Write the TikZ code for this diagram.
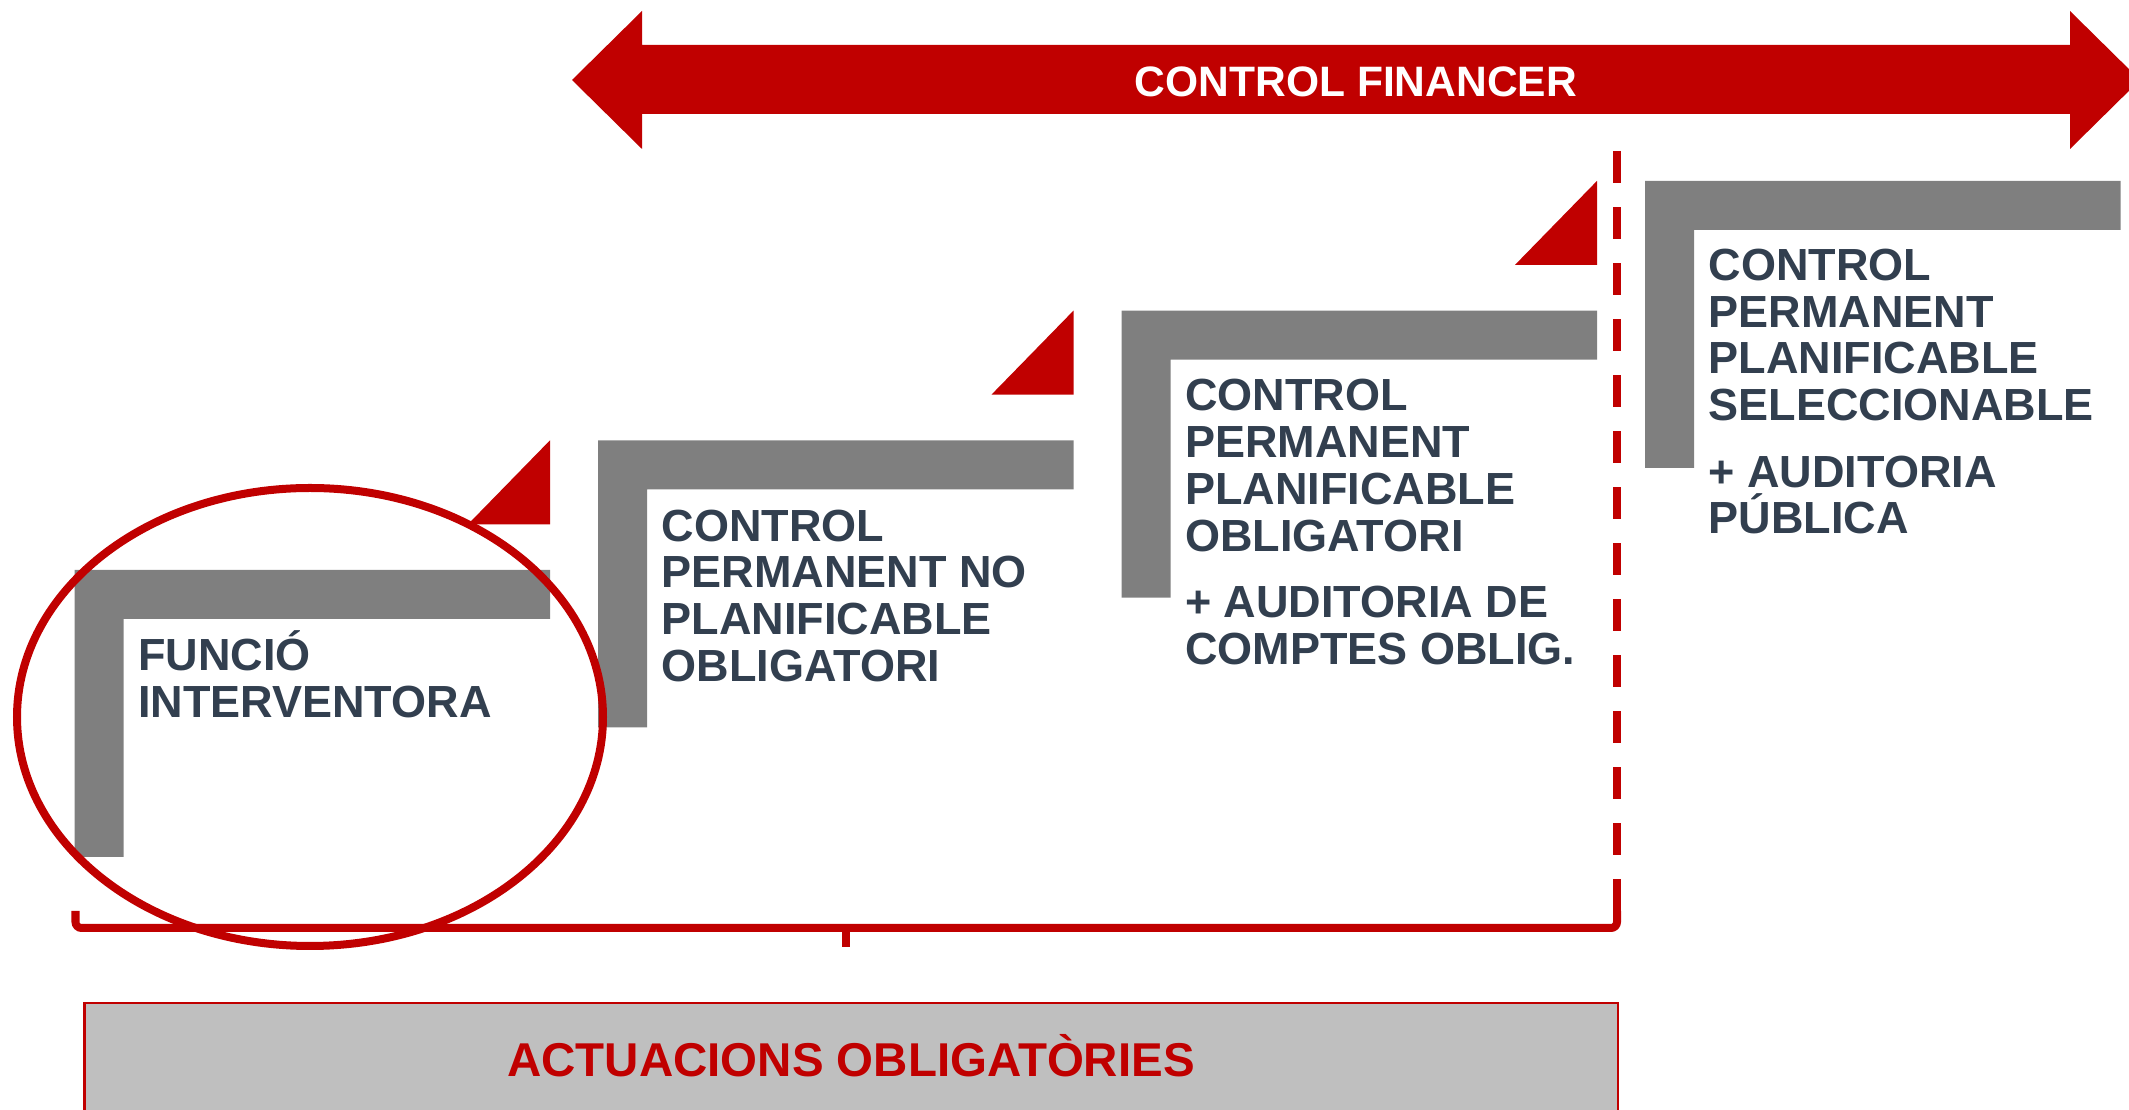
\documentclass[tikz,border=0pt]{standalone}
\usepackage{fontspec}
\setmainfont{Liberation Sans}
\definecolor{ctrlred}{HTML}{C00000}
\definecolor{stepgray}{HTML}{7F7F7F}
\definecolor{labelink}{HTML}{323F4F}
\definecolor{basegray}{HTML}{BFBFBF}

\begin{document}
\begin{tikzpicture}[x=0.01cm, y=-0.01cm,
    stepbar/.style={fill=stepgray},
    stepmark/.style={fill=ctrlred},
    steptext/.style={anchor=base west, inner sep=0pt, align=left, text=labelink,
        font=\fontsize{12.8}{13.3}\selectfont\bfseries},
    redline/.style={draw=ctrlred, line width=0.08cm}]
    \useasboundingbox (0,0) rectangle (2129,1110);
    \foreach \i in {0,...,3} {
        \pgfmathsetmacro{\xl}{74.5+523.5*\i}
        \pgfmathsetmacro{\yt}{570-129.7*\i}
        \coordinate (s\i) at (\xl,\yt);
        \fill[stepbar] (s\i) -- ++(475.5,0) -- ++(0,49) -- ++(-426.5,0) -- ++(0,238) -- ++(-49,0) -- cycle;
        \ifnum\i<3
            \fill[stepmark] (\xl+475.5,\yt-129.7) -- ++(0,84) -- ++(-82,0) -- cycle;
        \fi
    }
    \node[steptext] (funcio) at (137.5,717.5) {FUNCIÓ\\INTERVENTORA};
    \node[steptext] (noplan) at (661,681.5) {CONTROL\\PERMANENT NO\\PLANIFICABLE\\OBLIGATORI};
    \node[steptext] (planob) at (1184.5,664.5) {CONTROL\\PERMANENT\\PLANIFICABLE\\OBLIGATORI\\[5.6pt]+ AUDITORIA DE\\COMPTES OBLIG.};
    \node[steptext] (plansel) at (1708,534) {CONTROL\\PERMANENT\\PLANIFICABLE\\SELECCIONABLE\\[5.6pt]+ AUDITORIA\\PÚBLICA};

    \fill[ctrlred] (572,80) -- (642,11) -- (642,45) -- (2070,45) -- (2070,11) -- (2140,80)
        -- (2070,149) -- (2070,114) -- (642,114) -- (642,149) -- cycle;
    \node[anchor=base, inner sep=0pt, text=white, font=\fontsize{12.1}{14}\selectfont\bfseries] (financer) at (1356,96.7) {CONTROL FINANCER};

    \coordinate (cut) at (1617,151);
    \coordinate (braceL) at (75.5,911);
    \coordinate (braceR) at (1617,911);
    \coordinate (braceM) at (846,928);
    \draw[redline, dash pattern=on 0.32cm off 0.24cm] (cut) -- (braceR);
    \draw[redline, rounded corners=0.06cm] (braceL) |- (braceM) -| (braceR);
    \draw[redline] (braceM) -- ++(0,19);
    \draw[redline] (310,717) ellipse [x radius=293, y radius=229];

    \draw[draw=ctrlred, fill=basegray, line width=0.025cm] (84.6,1003) rectangle (1618,1125);
    \node[anchor=base, inner sep=0pt, text=ctrlred, font=\fontsize{13.5}{16}\selectfont\bfseries] (oblig) at (851,1076.7) {ACTUACIONS OBLIGATÒRIES};
\end{tikzpicture}
\end{document}
